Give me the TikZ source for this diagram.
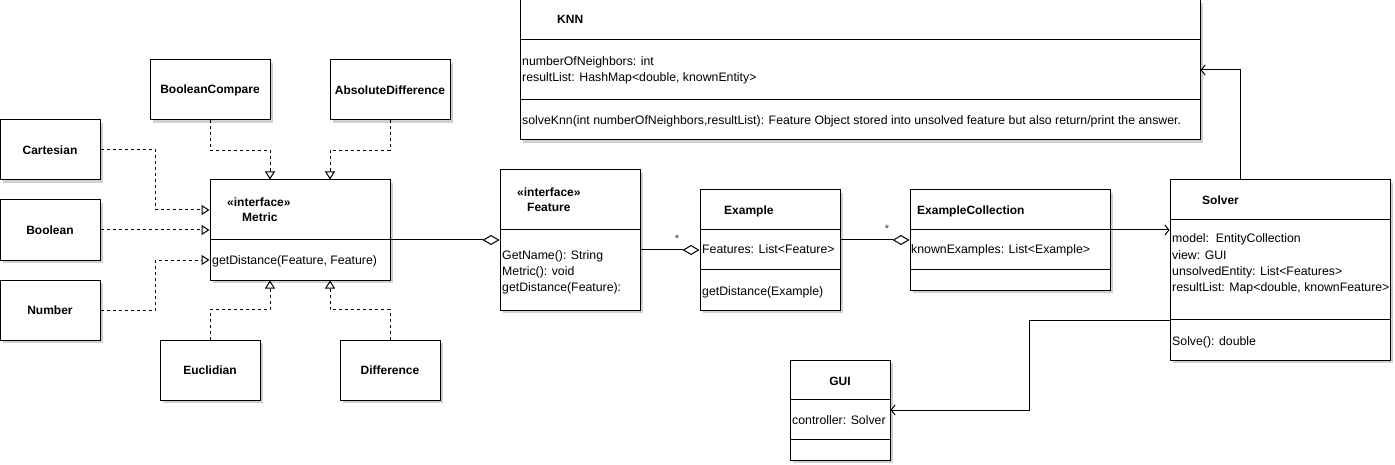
\documentclass[tikz,border=0pt]{standalone}
\usepackage{fontspec}
\setmainfont{Liberation Sans}
\usetikzlibrary{arrows.meta,calc,shadows}
\definecolor{shadowgray}{HTML}{D0D0D0}
\definecolor{multcol}{HTML}{4B2A6B}
\begin{document}
\begin{tikzpicture}[x=1pt,y=-1pt,
  font=\fontsize{12.3}{14}\selectfont,
  umlbox/.style={draw=black, line width=1pt, fill=white, inner sep=0pt,
    drop shadow={shadow xshift=3pt, shadow yshift=-3pt, fill=shadowgray, opacity=1}},
  boxtitle/.style={font=\fontsize{12}{14}\selectfont\bfseries},
  txt/.style={anchor=base west, inner sep=0pt},
  ttl/.style={anchor=base west, inner sep=0pt, font=\fontsize{12}{14}\selectfont\bfseries},
  divline/.style={line width=1pt},
  real/.style={line width=1pt, dash pattern=on 3pt off 3pt, -{Triangle[open,length=8pt,width=10pt]}},
  aggr/.style={line width=1pt, -{Diamond[open,length=17pt,width=10pt]}},
  assoc/.style={line width=1pt, -{Straight Barb[length=4pt,width=10pt]}},
  mult/.style={inner sep=0pt, text=multcol, font=\fontsize{11}{12}\selectfont}
]
\useasboundingbox (0,0) rectangle (1395,465);

% simple classes
\node[umlbox, minimum width=120pt, minimum height=60pt, boxtitle] (bc) at (210,90) {BooleanCompare};
\node[umlbox, minimum width=120pt, minimum height=60pt, boxtitle] (ad) at (390,90) {AbsoluteDifference};
\node[umlbox, minimum width=100pt, minimum height=60pt, boxtitle] (cart) at (50,150) {Cartesian};
\node[umlbox, minimum width=100pt, minimum height=60pt, boxtitle] (bool) at (50,230) {Boolean};
\node[umlbox, minimum width=100pt, minimum height=60pt, boxtitle] (num) at (50,310) {Number};
\node[umlbox, minimum width=100pt, minimum height=60pt, boxtitle] (euc) at (210,370) {Euclidian};
\node[umlbox, minimum width=100pt, minimum height=60pt, boxtitle] (diff) at (390,370) {Difference};

% Metric
\node[umlbox, minimum width=180pt, minimum height=100pt] (metric) at (300,230) {};
\draw[divline] ($(metric.north west)+(0,60)$) -- ($(metric.north east)+(0,60)$);
\node[ttl] (metricst) at (227,207) {«interface»};
\node[ttl] (metricname) at (242,222) {Metric};
\node[txt] (metricm) at (212,265) {getDistance(Feature, Feature)};

% Feature
\node[umlbox, minimum width=140pt, minimum height=140pt] (feature) at (570,240) {};
\draw[divline] ($(feature.north west)+(0,60)$) -- ($(feature.north east)+(0,60)$);
\node[ttl] (featst) at (517,197) {«interface»};
\node[ttl] (featname) at (527,212) {Feature};
\node[txt] (featm1) at (502,259) {GetName(): String};
\node[txt] (featm2) at (502,275) {Metric(): void};
\node[txt] (featm3) at (502,291) {getDistance(Feature):};

% Example
\node[umlbox, minimum width=140pt, minimum height=120pt] (example) at (770,250) {};
\draw[divline] ($(example.north west)+(0,40)$) -- ($(example.north east)+(0,40)$);
\draw[divline] ($(example.north west)+(0,80)$) -- ($(example.north east)+(0,80)$);
\node[ttl] (exname) at (724,215) {Example};
\node[txt] (exattr) at (702,254) {Features: List<Feature>};
\node[txt] (exmeth) at (702,295) {getDistance(Example)};

% ExampleCollection
\node[umlbox, minimum width=200pt, minimum height=100pt] (excoll) at (1010,240) {};
\draw[divline] ($(excoll.north west)+(0,40)$) -- ($(excoll.north east)+(0,40)$);
\draw[divline] ($(excoll.north west)+(0,80)$) -- ($(excoll.north east)+(0,80)$);
\node[ttl] (ecname) at (917,215) {ExampleCollection};
\node[txt] (ecattr) at (911,254) {knownExamples: List<Example>};

% Solver
\node[umlbox, minimum width=220pt, minimum height=180pt] (solver) at (1280,270) {};
\draw[divline] ($(solver.north west)+(0,40)$) -- ($(solver.north east)+(0,40)$);
\draw[divline] ($(solver.north west)+(0,140)$) -- ($(solver.north east)+(0,140)$);
\node[ttl] (solname) at (1202,205) {Solver};
\node[txt] (sola1) at (1172,243) {model:\ \ EntityCollection};
\node[txt] (sola2) at (1172,259) {view: GUI};
\node[txt] (sola3) at (1172,275) {unsolvedEntity: List<Features>};
\node[txt] (sola4) at (1172,291) {resultList: Map<double, knownFeature>};
\node[txt] (solm) at (1172,345) {Solve(): double};

% KNN
\node[umlbox, minimum width=680pt, minimum height=140pt] (knn) at (860,70) {};
\draw[divline] ($(knn.north west)+(0,40)$) -- ($(knn.north east)+(0,40)$);
\draw[divline] ($(knn.north west)+(0,100)$) -- ($(knn.north east)+(0,100)$);
\node[ttl] (knnname) at (557,24) {KNN};
\node[txt] (knna1) at (522,66) {numberOfNeighbors: int};
\node[txt] (knna2) at (522,82) {resultList: HashMap<double, knownEntity>};
\node[txt] (knnm) at (522,125) {solveKnn(int numberOfNeighbors,resultList): Feature Object stored into unsolved feature but also return/print the answer.};

% GUI
\node[umlbox, minimum width=100pt, minimum height=100pt] (gui) at (840,410) {};
\draw[divline] ($(gui.north west)+(0,40)$) -- ($(gui.north east)+(0,40)$);
\draw[divline] ($(gui.north west)+(0,80)$) -- ($(gui.north east)+(0,80)$);
\node[ttl, anchor=base] (guiname) at (840,385) {GUI};
\node[txt] (guiattr) at (792,424) {controller: Solver};

% realizations
\draw[real] (bc.south) -- ++(0,30) -| ($(metric.north)+(-30,0)$);
\draw[real] (ad.south) -- ++(0,30) -| ($(metric.north)+(30,0)$);
\draw[real] (cart.east) -- ++(55,0) |- ($(metric.west)+(0,-20)$);
\draw[real] (bool.east) -- (metric.west);
\draw[real] (num.east) -- ++(55,0) |- ($(metric.west)+(0,30)$);
\draw[real] (euc.north) -- ++(0,-30) -| ($(metric.south)+(-30,0)$);
\draw[real] (diff.north) -- ++(0,-30) -| ($(metric.south)+(30,0)$);

% aggregations
\draw[aggr] ($(metric.east)+(0,10)$) -- (feature.west);
\draw[aggr] ($(feature.east)+(0,10)$) -- (example.west);
\draw[aggr] ($(example.east)+(0,-10)$) -- (excoll.west);
\node[mult] (m1) at (677,239) {*};
\node[mult] (m2) at (887,229) {*};

% associations
\draw[assoc] ($(excoll.east)+(0,-10)$) -- ($(solver.west)+(0,-40)$);
\draw[assoc] ($(solver.north)+(-40,0)$) |- (knn.east);
\draw[assoc] ($(solver.west)+(0,50)$) -- ++(-140,0) |- (gui.east);
\end{tikzpicture}
\end{document}
